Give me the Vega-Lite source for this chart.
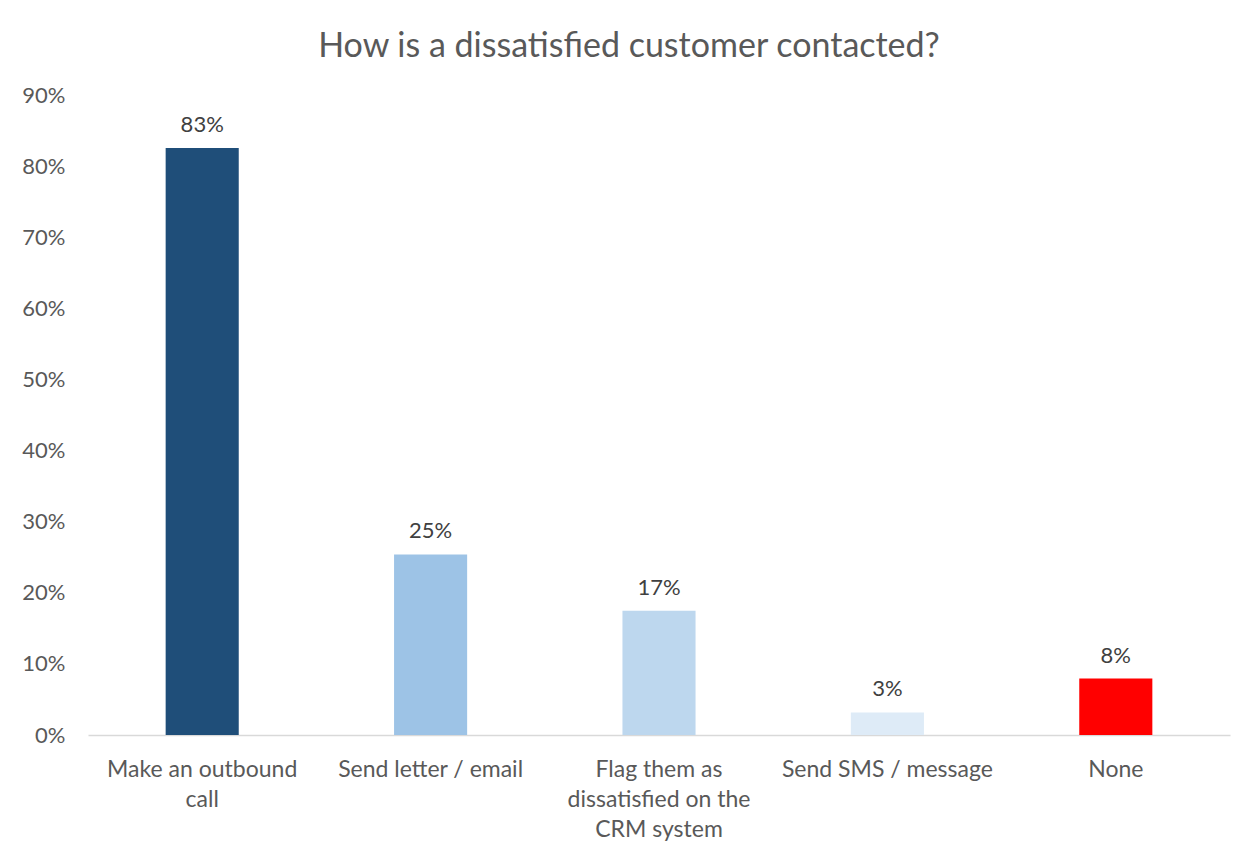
{
  "$schema": "https://vega.github.io/schema/vega-lite/v6.json",
  "width": 1142,
  "height": 640,
  "padding": {"left": 0, "top": 30, "right": 20, "bottom": 0},
  "autosize": {"type": "pad"},
  "background": "white",
  "title": {
    "text": "How is a dissatisfied customer contacted?",
    "fontSize": 34,
    "font": "Lato",
    "fontWeight": "normal",
    "color": "#595959",
    "anchor": "middle",
    "dx": -30,
    "offset": 20
  },
  "data": {
    "values": [
      {"method": "Make an outbound call", "share": 0.8254},
      {"method": "Send letter / email", "share": 0.254},
      {"method": "Flag them as dissatisfied on the CRM system", "share": 0.1746},
      {"method": "Send SMS / message", "share": 0.0317},
      {"method": "None", "share": 0.0794}
    ]
  },
  "config": {
    "view": {"stroke": null},
    "font": "Lato"
  },
  "encoding": {
    "x": {
      "field": "method",
      "type": "nominal",
      "sort": null,
      "scale": {"paddingInner": 0.68, "paddingOuter": 0.34},
      "axis": {
        "title": null,
        "labelAngle": 0,
        "labelFontSize": 23,
        "labelColor": "#595959",
        "labelFont": "Lato",
        "labelPadding": 23,
        "labelLineHeight": 30,
        "labelLimit": 400,
        "ticks": false,
        "domainColor": "#D9D9D9",
        "domainWidth": 1.5,
        "labelExpr": "datum.label == 'Make an outbound call' ? ['Make an outbound', 'call'] : datum.label == 'Flag them as dissatisfied on the CRM system' ? ['Flag them as', 'dissatisfied on the', 'CRM system'] : datum.label"
      }
    },
    "y": {
      "field": "share",
      "type": "quantitative",
      "scale": {"domain": [0, 0.9]},
      "axis": {
        "title": null,
        "format": ".0%",
        "values": [0, 0.1, 0.2, 0.3, 0.4, 0.5, 0.6, 0.7, 0.8, 0.9],
        "grid": false,
        "domain": false,
        "ticks": false,
        "labelFontSize": 22,
        "labelColor": "#595959",
        "labelFont": "Lato",
        "labelPadding": 23,
        "minExtent": 88,
        "maxExtent": 88
      }
    }
  },
  "layer": [
    {
      "mark": {"type": "bar"},
      "encoding": {
        "color": {
          "field": "method",
          "type": "nominal",
          "legend": null,
          "scale": {
            "domain": ["Make an outbound call", "Send letter / email", "Flag them as dissatisfied on the CRM system", "Send SMS / message", "None"],
            "range": ["#1F4E79", "#9DC3E6", "#BDD7EE", "#DEEBF7", "#FF0000"]
          }
        }
      }
    },
    {
      "mark": {"type": "text", "baseline": "bottom", "dy": -11, "fontSize": 22, "color": "#404040", "font": "Lato"},
      "encoding": {
        "text": {"field": "share", "type": "quantitative", "format": ".0%"}
      }
    }
  ]
}
